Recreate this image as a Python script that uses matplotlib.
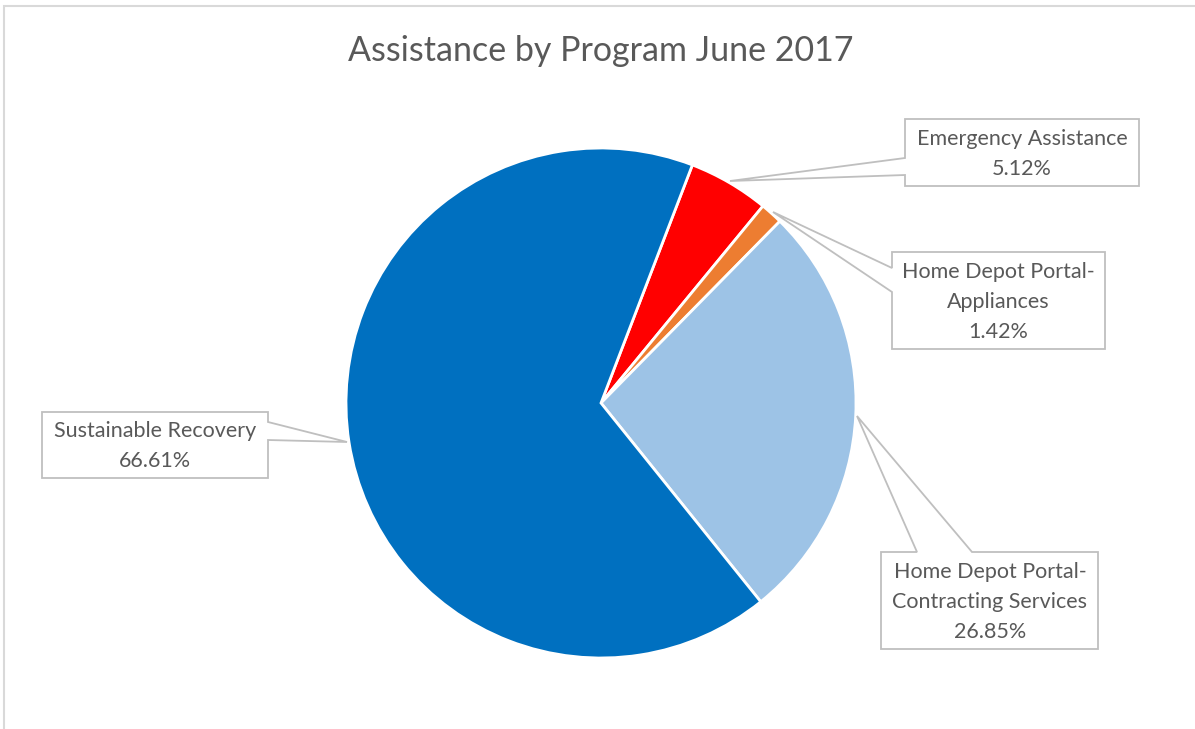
import matplotlib
matplotlib.use("Agg")
import matplotlib.pyplot as plt
from matplotlib.patches import Polygon, Rectangle

# ---- data ----
title = "Assistance by Program June 2017"
categories = ["Emergency Assistance", "Home Depot Portal-\nAppliances",
              "Home Depot Portal-\nContracting Services", "Sustainable Recovery"]
values = [5.12, 1.42, 26.85, 66.61]
colors = ["#FF0000", "#ED7D31", "#9DC3E6", "#0070C0"]

W, H = 1195, 729
fig = plt.figure(figsize=(W / 100, H / 100), dpi=100)
ax = fig.add_axes([0, 0, 1, 1])
ax.set_xlim(0, W)
ax.set_ylim(0, H)
ax.set_aspect("equal")
ax.axis("off")

font = ["Lato", "DejaVu Sans"]
tcol = "#595959"

def py(y):
    return H - y

# outer chart frame (only left/top visible)
ax.add_patch(Rectangle((4.5, py(1000)), 1400, 1000 - 6, fill=False,
                       edgecolor="#D9D9D9", linewidth=1.5))

cx, cy, r = 601, py(403), 255
ax.pie(values, colors=colors, startangle=69, counterclock=False,
       center=(cx, cy), radius=r, frame=True,
       wedgeprops=dict(edgecolor="white", linewidth=2.0))
ax.set_xlim(0, W)
ax.set_ylim(0, H)
ax.axis("off")

ax.text(601, py(51), title, ha="center", va="center", fontsize=24.5,
        color=tcol, family=font)

# callout boxes (layout positions in pixels)
callouts = [
    [(905, 119), (1139, 119), (1139, 186), (905, 186), (905, 175), (730, 181), (905, 158)],
    [(892, 252), (1105, 252), (1105, 349), (892, 349), (892, 292), (773, 212), (892, 268)],
    [(881, 552), (917, 552), (857, 416), (972, 552), (1098, 552), (1098, 649), (881, 649)],
    [(42, 412), (268, 412), (268, 422), (347, 442), (268, 440), (268, 478), (42, 478)],
]
centers = [(1022, 154), (998, 302), (990, 602), (155, 446)]

for pts, (tx, ty), cat, v in zip(callouts, centers, categories, values):
    poly = Polygon([(x, py(y)) for x, y in pts], closed=True, facecolor="white",
                   edgecolor="#BFBFBF", linewidth=1.3, zorder=3)
    ax.add_patch(poly)
    ax.text(tx, py(ty), f"{cat}\n{v:.2f}%", ha="center", va="center",
            fontsize=15.5, color=tcol, family=font, linespacing=1.6, zorder=4)

fig.savefig("out.png", dpi=100)
